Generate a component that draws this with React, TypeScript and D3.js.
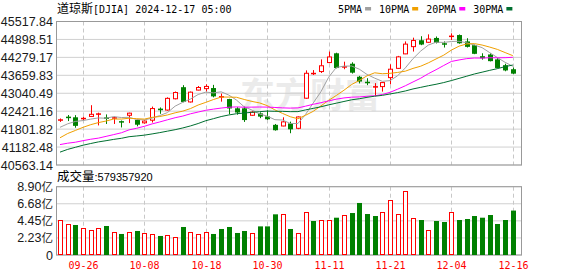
import React from 'react';
import * as d3 from 'd3';

const dates = ["09-23","09-24","09-25","09-26","09-27","09-30","10-01","10-02","10-03","10-04","10-07","10-08","10-09","10-10","10-11","10-14","10-15","10-16","10-17","10-18","10-21","10-22","10-23","10-24","10-25","10-28","10-29","10-30","10-31","11-01","11-04","11-05","11-06","11-07","11-08","11-11","11-12","11-13","11-14","11-15","11-18","11-19","11-20","11-21","11-22","11-25","11-26","11-27","11-29","12-02","12-03","12-04","12-05","12-06","12-09","12-10","12-11","12-12","12-13","12-16"];

const opens = [42101,42215,42210,42150,42240,42320,42190,42170,42060,42280,42120,42020,42110,42510,42460,42850,43250,42740,43150,43200,43220,42880,42840,42520,42520,42280,42345,42240,41950,41910,42000,41830,42870,43700,43790,44100,44420,43930,44060,43610,43420,43250,43270,43580,43900,44400,44650,44870,44800,44950,44750,44990,45050,44830,44700,44320,44380,44210,44010,43870];
const highs = [42170,42290,42285,42230,42628,42370,42310,42230,42100,42370,42150,42110,42580,42550,42900,43100,43320,43100,43290,43350,43330,43030,42850,42560,42580,42420,42380,42450,41980,42210,42060,42240,43830,43840,44210,44480,44440,44130,44110,43640,43560,43390,43430,44040,44330,44830,44960,45010,45074,45000,44830,45109,45070,44940,44720,44420,44420,44250,44060,43930];
const lows = [42051,42080,41850,42100,42230,41930,41980,41980,41860,42010,41900,41990,42030,42330,42440,42830,42730,42720,43140,43100,42900,42750,42320,42300,42050,42260,42180,42120,41750,41900,41660,41800,42850,43670,43740,44080,43900,43870,43720,43380,43320,42940,43097,43350,43880,44390,44480,44700,44780,44760,44620,44878,44750,44620,44390,44200,44140,43900,43800,43700];
const closes = [42124.65,42208.22,41914.75,42175.11,42313.00,42330.15,42156.97,42196.52,42011.59,42352.75,41954.24,42080.37,42512.00,42454.12,42863.86,43065.22,42740.42,43077.70,43239.05,43275.91,42931.60,42924.89,42514.95,42374.36,42114.40,42387.57,42233.05,42141.54,41763.46,42052.19,41794.60,42221.88,43729.93,43729.34,43988.99,44293.13,43910.98,43958.19,43750.86,43444.99,43389.60,43268.94,43408.47,43870.35,44296.51,44736.57,44860.31,44722.06,44910.65,44782.00,44705.53,45014.04,44765.71,44642.52,44401.93,44247.83,44148.56,43914.12,43828.06,43717.48];
// closes of the 29 sessions before the first candle (needed for the moving averages)
const priorCloses = [39357.01,39765.64,40008.39,40563.06,40659.76,40896.53,40834.97,40890.49,40712.78,41175.08,41240.52,41250.50,41091.42,41335.05,41563.08,40936.93,40974.97,40755.75,40345.41,40829.59,40736.96,40861.71,41096.77,41393.78,41622.08,41606.18,41503.10,42025.19,42063.36];
// volume in 亿
const volumes = [4.56,4.00,3.91,3.47,3.21,3.47,3.78,2.95,2.74,2.95,3.13,2.82,2.69,2.48,2.56,2.35,3.65,2.95,2.69,2.95,2.74,3.39,3.65,2.87,3.13,2.82,3.73,3.73,5.30,5.30,3.39,2.82,5.56,4.43,4.56,4.56,4.86,5.21,5.47,6.78,5.34,5.08,5.56,7.17,5.30,8.34,4.78,4.56,3.21,4.43,4.30,5.56,4.56,4.69,5.08,4.86,5.21,4.04,4.56,5.79];

const priceTicks = [40563.14,41182.48,41801.82,42421.16,43040.49,43659.83,44279.17,44898.51,45517.84];
const volTicks = [0,2.225,4.45,6.675,8.90];
const volTickLabels = ["0","2.23亿","4.45亿","6.68亿","8.90亿"];
const xTickLabels = ["09-26","10-08","10-18","10-30","11-11","11-21","12-04","12-16"];
const maPeriods = [5,10,20,30];
const maNames = ["5PMA","10PMA","20PMA","30PMA"];
const maColors = ["#a0a0a0","#f0a000","#ff00ff","#006f30"];
const titleName = "道琼斯";
const titleRest = "[DJIA] 2024-12-17 05:00";
const volTitle = "成交量";
const lastVolume = "579357920";

const RED = "#ff0000";
const GREEN = "#008000";
const MONO = "'DejaVu Sans Mono', monospace";
const SANS = "'Liberation Sans', Arial, sans-serif";
const CJK = "'Noto Sans CJK SC', sans-serif";

export default function App() {
  const W = 578, H = 276;
  const L = 56, R = 522, T = 21.5, B = 165, VT = 186.7, VB = 255;
  const x = d3.scaleLinear().domain([0, dates.length - 1]).range([60, 512.8]);
  const y = d3.scaleLinear().domain([priceTicks[0], priceTicks[priceTicks.length - 1]]).range([B, T]);
  const vy = d3.scaleLinear().domain([0, volTicks[volTicks.length - 1]]).range([VB, VT]);

  const all = priorCloses.concat(closes);
  const off = priorCloses.length;
  const mas = maPeriods.map(n => closes.map((_, i) => d3.mean(all.slice(off + i - n + 1, off + i + 1)) as number));
  const line = d3.line<number>().x((_, i) => x(i)).y(v => y(v));

  const xIdx = xTickLabels.map(t => dates.indexOf(t));

  const legendStart = 338;
  const charW = 6.02;
  let lx = legendStart;
  const legendItems = maNames.map((nm, k) => {
    const tx = lx;
    const tw = nm.length * charW;
    const sx = tx + tw + 3;
    lx = sx + 6 + 8;
    return { nm, tx, sx, color: maColors[k] };
  });

  return (
    <svg width={W} height={H} style={{ position: 'absolute', left: 0, top: 0, background: '#fff' }}>
      <rect x={0} y={0} width={W} height={H} fill="#fff" />
      {/* title */}
      <text x={57} y={13} fontSize={10} fill="#000">
        <tspan fontFamily={CJK} fontSize={12}>{titleName}</tspan>
        <tspan fontFamily={MONO}>{titleRest}</tspan>
      </text>
      {/* legend */}
      {legendItems.map(it => (
        <g key={it.nm}>
          <text x={it.tx} y={13} fontFamily={MONO} fontSize={10} fill="#000">{it.nm}</text>
          <rect x={it.sx} y={7} width={6} height={3.5} fill={it.color} />
        </g>
      ))}
      {/* watermark */}
      <text x={240} y={108} fontFamily={CJK} fontWeight={700} fontSize={35} fill="#ebebeb" letterSpacing={0}>东方财富</text>
      {/* price grid */}
      {priceTicks.map((t, i) => (
        <g key={'pt' + i}>
          <line x1={L} x2={R} y1={y(t)} y2={y(t)} stroke="#d0d0d0" strokeWidth={1} />
          <text x={53} y={y(t)} dy="0.36em" textAnchor="end" fontFamily={SANS} fontSize={12.5} fill="#1a1a1a">{t.toFixed(2)}</text>
        </g>
      ))}
      {xIdx.map((i, k) => (
        <line key={'vg' + k} x1={Math.round(x(i)) + 0.5} x2={Math.round(x(i)) + 0.5} y1={T} y2={B} stroke="#c8c8c8" strokeDasharray="4,3" />
      ))}
      <rect x={L + 0.5} y={T} width={R - L - 1} height={B - T} fill="none" stroke="#999" strokeWidth={1} />
      {/* candles */}
      {dates.map((d, i) => {
        const cx = Math.round(x(i));
        const o = opens[i], c = closes[i];
        const up = c >= o;
        const col = up ? RED : GREEN;
        const yTop = y(Math.max(o, c)), yBot = y(Math.min(o, c));
        const bh = Math.max(1, yBot - yTop);
        return (
          <g key={'c' + i}>
            <line x1={cx + 0.5} x2={cx + 0.5} y1={y(highs[i])} y2={y(lows[i])} stroke={col} strokeWidth={1} />
            {up ? (
              bh <= 1.5 ? (
                <rect x={cx - 2} y={yTop - 0.5} width={5} height={1.5} fill={col} />
              ) : (
                <rect x={cx - 1.5} y={yTop} width={4} height={bh} fill="#fff" stroke={col} strokeWidth={1} />
              )
            ) : (
              <rect x={cx - 2} y={bh <= 1.5 ? yTop - 0.5 : yTop} width={5} height={Math.max(1.5, bh)} fill={col} />
            )}
          </g>
        );
      })}
      {/* moving averages */}
      {mas.map((m, k) => (
        <path key={'ma' + k} d={line(m) || ''} fill="none" stroke={maColors[k]} strokeWidth={1} />
      ))}
      {/* volume panel */}
      <text x={57} y={181} fill="#000">
        <tspan fontFamily={CJK} fontSize={12.5}>{volTitle}</tspan>
        <tspan fontFamily={SANS} fontSize={11}>:{lastVolume}</tspan>
      </text>
      {volTicks.map((t, i) => (
        <g key={'vt' + i}>
          <line x1={L} x2={R} y1={vy(t)} y2={vy(t)} stroke="#d0d0d0" strokeWidth={1} />
          <text x={53} y={vy(t)} dy="0.36em" textAnchor="end" fontSize={12.5} fill="#1a1a1a">
            <tspan fontFamily={SANS}>{volTickLabels[i].replace('亿', '')}</tspan>
            {volTickLabels[i].includes('亿') ? <tspan fontFamily={CJK} fontSize={11.5}>亿</tspan> : null}
          </text>
        </g>
      ))}
      {xIdx.map((i, k) => (
        <line key={'vvg' + k} x1={Math.round(x(i)) + 0.5} x2={Math.round(x(i)) + 0.5} y1={VT} y2={VB} stroke="#c8c8c8" strokeDasharray="4,3" />
      ))}
      <rect x={L + 0.5} y={VT} width={R - L - 1} height={VB - VT} fill="none" stroke="#999" strokeWidth={1} />
      {volumes.map((v, i) => {
        const cx = Math.round(x(i));
        const prev = i === 0 ? priorCloses[priorCloses.length - 1] : closes[i - 1];
        const up = closes[i] >= prev;
        const top = vy(v);
        return up ? (
          <rect key={'v' + i} x={cx - 1.5} y={Math.round(top) + 0.5} width={4} height={VB - Math.round(top) - 1} fill="#fff" stroke={RED} strokeWidth={1} />
        ) : (
          <rect key={'v' + i} x={cx - 2} y={top} width={5} height={VB - top} fill={GREEN} />
        );
      })}
      {/* x labels */}
      {xIdx.map((i, k) => (
        <text key={'xl' + k} x={Math.round(x(i)) + 0.5} y={269} textAnchor="middle" fontFamily={MONO} fontSize={10} fill={RED}>{xTickLabels[k]}</text>
      ))}
    </svg>
  );
}
